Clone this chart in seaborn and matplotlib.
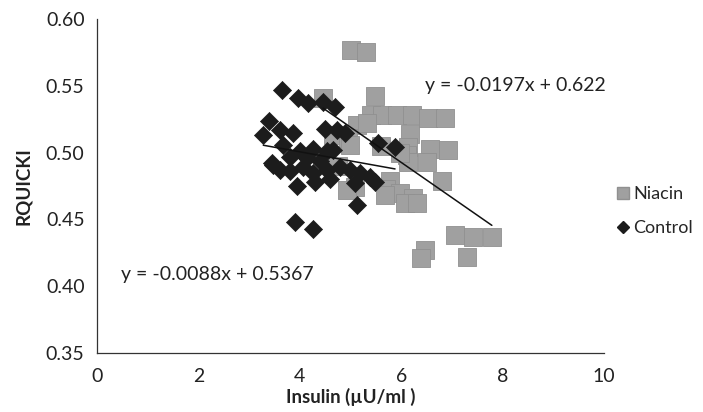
import numpy as np
import pandas as pd
import matplotlib
matplotlib.use("Agg")
import matplotlib.pyplot as plt
import seaborn as sns
from matplotlib.lines import Line2D

niacin_x = [5.02, 5.31, 5.48, 4.46, 5.40, 5.62, 5.91, 6.21, 6.53, 6.86,
            5.12, 5.32, 6.17, 4.66, 4.95, 6.57, 6.92, 6.13, 4.99, 6.11,
            6.13, 6.51, 5.98, 6.80, 5.78, 5.71, 5.98, 6.24, 5.68, 6.07,
            6.31, 5.09, 4.93, 7.06, 7.42, 7.79, 7.29, 6.47, 6.40, 5.60, 4.75]
niacin_y = [0.577, 0.575, 0.542, 0.541, 0.528, 0.528, 0.528, 0.528, 0.526, 0.526,
            0.521, 0.522, 0.514, 0.513, 0.511, 0.503, 0.502, 0.504, 0.506, 0.498,
            0.493, 0.493, 0.500, 0.479, 0.479, 0.473, 0.470, 0.466, 0.468, 0.462,
            0.462, 0.474, 0.472, 0.438, 0.437, 0.437, 0.422, 0.427, 0.421, 0.505, 0.490]

control_x = [3.64, 3.97, 4.17, 4.46, 4.70, 3.39, 3.28, 3.61, 3.87, 4.50,
             4.73, 4.89, 3.67, 4.00, 4.26, 4.54, 4.66, 3.47, 3.81, 4.06,
             4.26, 4.54, 4.79, 4.99, 5.19, 5.09, 5.38, 5.12, 3.91, 4.26,
             4.14, 4.40, 3.81, 5.54, 5.88, 5.48, 3.61, 3.45, 4.30, 4.60, 3.95]
control_y = [0.547, 0.541, 0.537, 0.538, 0.534, 0.524, 0.513, 0.517, 0.515, 0.518,
             0.517, 0.515, 0.506, 0.501, 0.503, 0.501, 0.502, 0.491, 0.486, 0.489,
             0.485, 0.487, 0.489, 0.487, 0.485, 0.477, 0.482, 0.461, 0.448, 0.443,
             0.496, 0.494, 0.497, 0.507, 0.504, 0.478, 0.487, 0.492, 0.478, 0.480, 0.475]

series_names = ["Niacin", "Control"]
eq_labels = ["y = -0.0197x + 0.622", "y = -0.0088x + 0.5367"]
x_ticks = [0, 2, 4, 6, 8, 10]
y_ticks = [0.35, 0.40, 0.45, 0.50, 0.55, 0.60]
x_label = "Insulin (\u00b5U/ml )"
y_label = "RQUICKI"

sns.set_style("white")
plt.rcParams["font.family"] = ["Lato", "DejaVu Sans"]

fig = plt.figure(figsize=(7.03, 4.12), dpi=100)
ax = fig.add_axes([0.138, 0.143, 0.721, 0.811])

niacin_color = "#a0a0a0"
control_color = "#1c1c1c"

sns.scatterplot(x=niacin_x, y=niacin_y, ax=ax, marker="s", s=160,
                color=niacin_color, edgecolor="#909090", linewidth=0.6, zorder=2)
sns.scatterplot(x=control_x, y=control_y, ax=ax, marker="D", s=85,
                color=control_color, edgecolor=control_color, linewidth=0.5, zorder=3)

sns.regplot(x=niacin_x, y=niacin_y, ax=ax, scatter=False, ci=None, truncate=True,
            line_kws=dict(color="#111111", lw=1.1, zorder=4))
sns.regplot(x=control_x, y=control_y, ax=ax, scatter=False, ci=None, truncate=True,
            line_kws=dict(color="#111111", lw=1.1, zorder=4))

ax.set_xlim(0, 10)
ax.set_ylim(0.35, 0.60)
ax.set_xticks(x_ticks)
ax.set_xticklabels([str(t) for t in x_ticks])
ax.set_yticks(y_ticks)
ax.set_yticklabels([f"{t:.2f}" for t in y_ticks])
ax.tick_params(axis="both", direction="out", length=5, width=0.8, colors="#222222",
               labelsize=14, pad=4)
ax.tick_params(axis="x", pad=6)
for sp in ["top", "right"]:
    ax.spines[sp].set_visible(False)
for sp in ["left", "bottom"]:
    ax.spines[sp].set_color("#333333")
    ax.spines[sp].set_linewidth(0.9)

ax.set_xlabel(x_label, fontsize=13.5, fontweight="bold", labelpad=2, color="#222222")
ax.set_ylabel(y_label, fontsize=13.5, fontweight="bold", labelpad=10, color="#222222")

ax.text(6.47, 0.5499, eq_labels[0], fontsize=14, va="center", ha="left", color="#222222")
ax.text(0.47, 0.4087, eq_labels[1], fontsize=14, va="center", ha="left", color="#222222")

handles = [Line2D([], [], marker="s", linestyle="none", markersize=9,
                  markerfacecolor=niacin_color, markeredgecolor="#909090"),
           Line2D([], [], marker="D", linestyle="none", markersize=6.5,
                  markerfacecolor=control_color, markeredgecolor=control_color)]
fig.legend(handles, series_names, loc="center left", bbox_to_anchor=(0.876, 0.487),
           frameon=False, fontsize=13, handletextpad=0.15, labelspacing=1.0,
           handlelength=0.8, borderaxespad=0, borderpad=0)

fig.savefig("out.png", dpi=100)
